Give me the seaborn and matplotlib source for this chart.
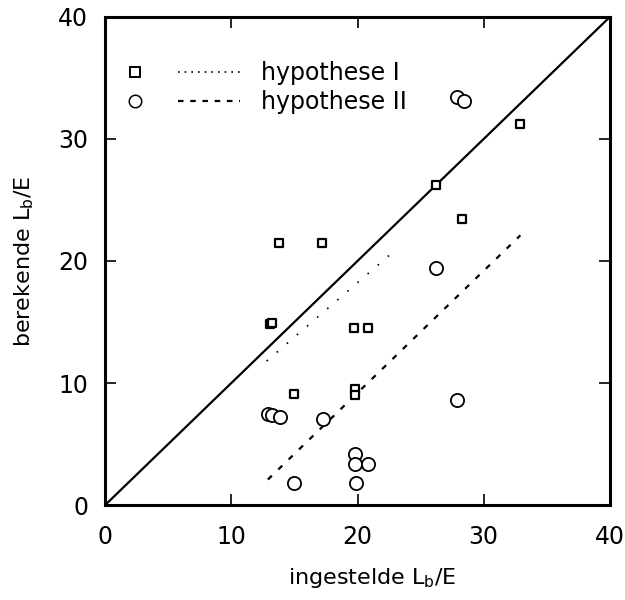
import numpy as np
import pandas as pd
import matplotlib
matplotlib.use("Agg")
import matplotlib.pyplot as plt
import seaborn as sns
from matplotlib.lines import Line2D
from matplotlib.legend_handler import HandlerTuple

# data
sq_x = [13.1, 13.2, 13.75, 17.2, 15.0, 19.7, 20.8, 19.8, 19.8, 26.2, 28.3, 32.9]
sq_y = [14.8, 14.9, 21.5, 21.5, 9.1, 14.5, 14.5, 9.5, 9.0, 26.2, 23.4, 31.2]
ci_x = [27.9, 28.4, 26.2, 12.9, 13.2, 13.9, 17.3, 27.9, 19.8, 19.8, 20.8, 15.0, 19.9]
ci_y = [33.4, 33.1, 19.4, 7.5, 7.4, 7.2, 7.1, 8.6, 4.2, 3.4, 3.4, 1.8, 1.8]

diag_x = [0, 40]
diag_y = [0, 40]
hyp1_x = [12.8, 23.0]      # dotted
hyp1_y = [11.8, 20.9]
hyp2_x = [12.9, 32.9]      # dashed
hyp2_y = [2.1, 22.1]

sns.set_style("ticks")
plt.rcParams["font.family"] = ["DejaVu Sans"]
plt.rcParams["text.color"] = "black"
plt.rcParams["axes.labelcolor"] = "black"
plt.rcParams["xtick.color"] = "black"
plt.rcParams["ytick.color"] = "black"
plt.rcParams["axes.edgecolor"] = "black"

fig = plt.figure(figsize=(6.25, 6), dpi=100)
ax = fig.add_axes([0.168, 0.158, 0.808, 0.814])

sns.lineplot(x=diag_x, y=diag_y, ax=ax, color="black", lw=1.6)
sns.lineplot(x=hyp1_x, y=hyp1_y, ax=ax, color="black", lw=1.2, linestyle=(0, (1, 7)))
sns.lineplot(x=hyp2_x, y=hyp2_y, ax=ax, color="black", lw=1.6, linestyle=(0, (2.5, 4)))

sns.scatterplot(x=sq_x, y=sq_y, ax=ax, marker="s", s=38, facecolor="white",
                edgecolor="black", linewidth=1.6, zorder=3)
sns.scatterplot(x=ci_x, y=ci_y, ax=ax, marker="o", s=90, facecolor="white",
                edgecolor="black", linewidth=1.3, zorder=3)

ax.set_xlim(0, 40)
ax.set_ylim(0, 40)
ax.set_xticks([0, 10, 20, 30, 40])
ax.set_yticks([0, 10, 20, 30, 40])
ax.tick_params(direction="in", length=8, width=1.2, labelsize=17, top=True, right=True)
ax.tick_params(axis="x", pad=14)
ax.tick_params(axis="y", pad=12)
for sp in ax.spines.values():
    sp.set_linewidth(2.2)

ax.set_xlabel(r"ingestelde L$_\mathregular{b}$/E", fontsize=16, labelpad=12)
ax.set_ylabel(r"berekende L$_\mathregular{b}$/E", fontsize=16, labelpad=16)
ax.xaxis.set_label_coords(0.53, -0.125)

h1 = (Line2D([], [], marker="s", ls="none", mfc="white", mec="black", ms=7, mew=1.4),
      Line2D([], [], color="black", lw=1.2, ls=(0, (1, 3))))
h2 = (Line2D([], [], marker="o", ls="none", mfc="white", mec="black", ms=9, mew=1.1),
      Line2D([], [], color="black", lw=1.6, ls=(0, (2.5, 3))))
ax.legend([h1, h2], ["hypothese I", "hypothese II"], loc="upper left",
          bbox_to_anchor=(-0.044, 0.952), frameon=False, fontsize=17,
          handlelength=5.75, handletextpad=0.9, labelspacing=0.2,
          handler_map={tuple: HandlerTuple(ndivide=None, pad=0.5)})

fig.savefig("out.png", dpi=100)
